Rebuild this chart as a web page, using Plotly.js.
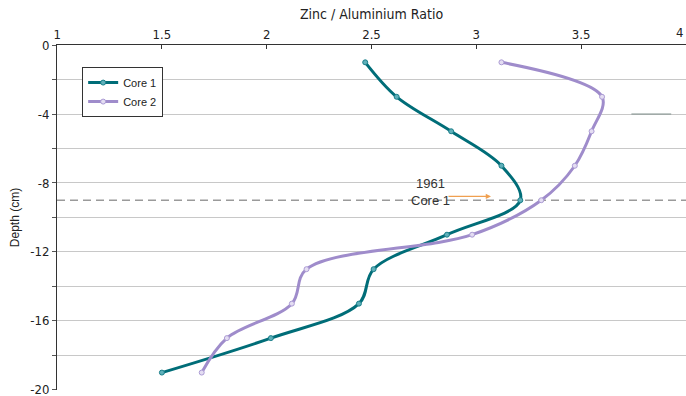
<!DOCTYPE html>
<html>
<head>
<meta charset="utf-8">
<script src="https://cdn.plot.ly/plotly-3.0.1.min.js"></script>
<style>html,body{margin:0;padding:0;background:#fff;}#chart{width:686px;height:396px;}</style>
</head>
<body>
<div id="chart"></div>
<script>
const depths = [-1, -3, -5, -7, -9, -11, -13, -15, -17, -19];
const core1 = [2.47, 2.62, 2.88, 3.12, 3.21, 2.86, 2.51, 2.44, 2.02, 1.50];
const core2 = [3.12, 3.60, 3.55, 3.47, 3.31, 2.98, 2.19, 2.12, 1.81, 1.69];
const xTicks = [1, 1.5, 2, 2.5, 3, 3.5, 4];
const xTickText = ['1', '1.5', '2', '2.5', '3', '3.5', ''];
const lastXLabel = '4';
const yTicks = [0, -2, -4, -6, -8, -10, -12, -14, -16, -18, -20];
const yTickText = yTicks.map(v => (v % 4 === 0 ? String(v) : ''));
const markerDepth = -9;

const narrow = '"Liberation Sans Narrow", "Arial Narrow", "DejaVu Sans Condensed", "Liberation Sans", sans-serif';
const regular = '"Liberation Sans", Arial, sans-serif';

const traces = [
  {
    x: core1, y: depths, name: 'Core 1', type: 'scatter', mode: 'lines+markers',
    line: {color: '#006d78', width: 3, shape: 'spline', smoothing: 1},
    marker: {size: 5, color: '#5fb0ba', line: {color: '#1a7f8a', width: 1}}
  },
  {
    x: core2, y: depths, name: 'Core 2', type: 'scatter', mode: 'lines+markers',
    line: {color: '#9f8ccb', width: 3, shape: 'spline', smoothing: 1},
    marker: {size: 5, color: '#e4ddf2', line: {color: '#ab9bd4', width: 1}}
  }
];

const layout = {
  width: 686, height: 396,
  margin: {l: 57, r: 0, t: 45, b: 6},
  paper_bgcolor: '#fff', plot_bgcolor: '#fff',
  showlegend: true,
  legend: {
    x: 0.04, y: 0.936, xanchor: 'left', yanchor: 'top',
    bgcolor: '#fff', bordercolor: '#333', borderwidth: 1,
    font: {family: regular, size: 11, color: '#222'},
    tracegroupgap: 0, itemwidth: 30
  },
  xaxis: {
    side: 'top', range: [0.9995, 4.0005], tickvals: xTicks, ticktext: xTickText,
    showgrid: false, zeroline: false, ticklabeloverflow: 'allow',
    showline: true, linecolor: '#333', linewidth: 1,
    ticks: 'inside', ticklen: 4, tickcolor: '#333',
    tickfont: {family: narrow, size: 13, color: '#222'},
    title: {text: 'Zinc / Aluminium Ratio', font: {family: narrow, size: 14, color: '#222'}, standoff: 3}
  },
  yaxis: {
    range: [-20.01, 0.005], tickvals: yTicks, ticktext: yTickText,
    showgrid: true, gridcolor: '#c8c8c8', gridwidth: 1, zeroline: false, ticklabeloverflow: 'allow',
    showline: true, linecolor: '#333', linewidth: 1,
    ticks: 'outside', ticklen: 4, tickcolor: '#555',
    tickfont: {family: narrow, size: 13, color: '#222'},
    title: {text: 'Depth (cm)', font: {family: regular, size: 12, color: '#222'}, standoff: 8}
  },
  shapes: [
    {type: 'line', xref: 'paper', x0: 0, x1: 1, yref: 'y', y0: markerDepth, y1: markerDepth,
     line: {color: '#9a9a9a', width: 1.5, dash: '8px,5px'}, layer: 'below'},
    {type: 'line', xref: 'x', x0: 3.74, x1: 3.93, yref: 'y', y0: -4, y1: -4,
     line: {color: '#7f8f8c', width: 1}}
  ],
  annotations: [
    {x: 2.78, y: -8.55, xref: 'x', yref: 'y', text: '1961<br>Core 1', showarrow: false,
     font: {family: regular, size: 13, color: '#333'}, align: 'center'},
    {x: 3.07, y: -8.78, ax: 2.86, ay: -8.78, xref: 'x', yref: 'y', axref: 'x', ayref: 'y',
     text: '', showarrow: true, arrowhead: 2, arrowsize: 0.8, arrowwidth: 1.3, arrowcolor: '#f0a050'},
    {x: xTicks[xTicks.length - 1], y: 1, xref: 'x', yref: 'paper', text: lastXLabel, showarrow: false,
     xanchor: 'right', yanchor: 'bottom', xshift: -1, yshift: 3,
     font: {family: narrow, size: 13, color: '#222'}}
  ]
};

Plotly.newPlot('chart', traces, layout, {displayModeBar: false, staticPlot: true});
</script>
</body>
</html>
